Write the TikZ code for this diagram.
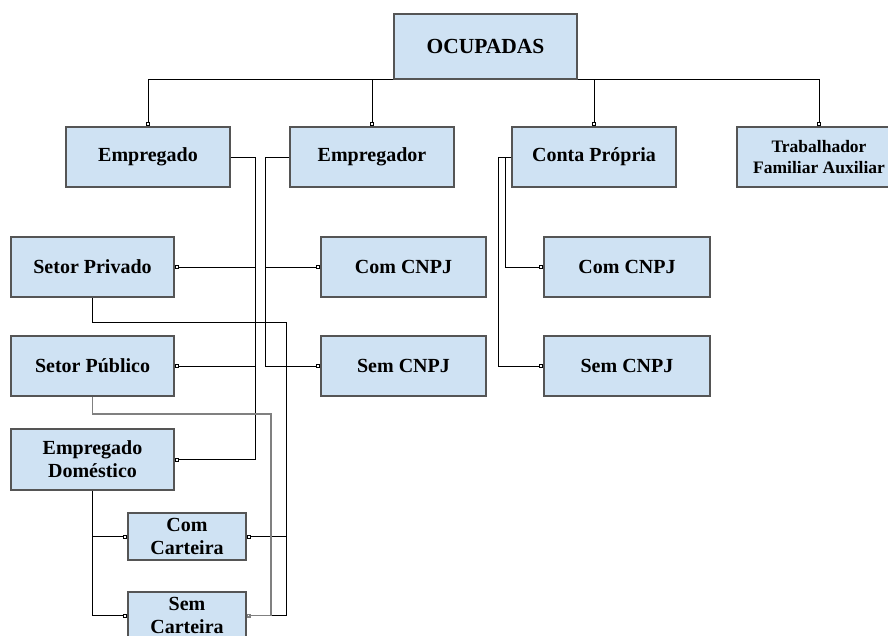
\documentclass[tikz,border=0pt]{standalone}
\usepackage{fontspec}
\setmainfont{Liberation Serif}
\usetikzlibrary{arrows.meta}
\definecolor{boxblue}{RGB}{207,226,243}
\definecolor{boxedge}{RGB}{85,85,85}

\begin{document}
\begin{tikzpicture}[x=1pt, y=-1pt,
    caixa/.style={draw=boxedge, line width=1.5pt, fill=boxblue, minimum width=164pt,
        minimum height=60pt, inner sep=0pt, align=center,
        font=\fontsize{20}{23}\selectfont\bfseries},
    liga/.style={line width=1pt, -{Square[open, length=4pt, width=4pt]}}]

    \useasboundingbox (0,0) rectangle (888,635);

    % topo
    \node[caixa, minimum width=183pt, minimum height=65pt,
        font=\fontsize{21.5}{25}\selectfont\bfseries] (ocup) at (485.5,46.5) {OCUPADAS};

    % segundo nivel
    \node[caixa] (empdo)  at (148,157)   {Empregado};
    \node[caixa] (empdor) at (372,157)   {Empregador};
    \node[caixa] (conta)  at (594,157)   {Conta Própria};
    \node[caixa, font=\fontsize{17.5}{21}\selectfont\bfseries] (trab) at (819,157)
        {Trabalhador\\Familiar Auxiliar};

    % empregado
    \node[caixa, minimum width=163pt] (sprivado) at (92.5,267)   {Setor Privado};
    \node[caixa, minimum width=163pt] (spublico) at (92.5,366)   {Setor Público};
    \node[caixa, minimum width=163pt, minimum height=61pt] (domest) at (92.5,459.5)
        {Empregado\\Doméstico};
    \node[caixa, minimum width=118pt, minimum height=47pt] (cart1) at (187,536.5) {Com\\Carteira};
    \node[caixa, minimum width=118pt, minimum height=47pt] (cart2) at (187,615.5) {Sem\\Carteira};

    % empregador e conta propria
    \node[caixa, minimum width=165pt] (ecom) at (403.5,267) {Com CNPJ};
    \node[caixa, minimum width=165pt] (esem) at (403.5,366) {Sem CNPJ};
    \node[caixa, minimum width=166pt] (ccom) at (627,267)   {Com CNPJ};
    \node[caixa, minimum width=166pt] (csem) at (627,366)   {Sem CNPJ};

    \coordinate (ebus) at (255,157);
    \coordinate (rbus) at (265,157);
    \coordinate (cbus1) at (505,157);
    \coordinate (cbus2) at (498,157);
    \coordinate (pbus) at (286,322);
    \coordinate (gbus) at (271,414);

    \draw[liga] (ocup.south west) -| (empdo.north);
    \draw[liga] (ocup.south west) -| (empdor.north);
    \draw[liga] (ocup.south east) -| (conta.north);
    \draw[liga] (ocup.south east) -| (trab.north);

    \draw[liga] (empdo.east) -- (ebus) |- (sprivado.east);
    \draw[liga] (empdo.east) -- (ebus) |- (spublico.east);
    \draw[liga] (empdo.east) -- (ebus) |- (domest.east);

    \draw[liga] (empdor.west) -- (rbus) |- (ecom.west);
    \draw[liga] (empdor.west) -- (rbus) |- (esem.west);

    \draw[liga] (conta.west) -- (cbus1) |- (ccom.west);
    \draw[liga] (conta.west) -- (cbus2) |- (csem.west);

    \draw[liga] (domest.south) |- (cart1.west);
    \draw[liga] (domest.south) |- (cart2.west);

    \draw[liga] (sprivado.south) |- (pbus) |- (cart1.east);
    \draw[liga] (sprivado.south) |- (pbus) |- (cart2.east);
    \draw[liga, draw=gray, line width=1.6pt] (spublico.south) |- (gbus) |- (cart2.east);

\end{tikzpicture}
\end{document}
